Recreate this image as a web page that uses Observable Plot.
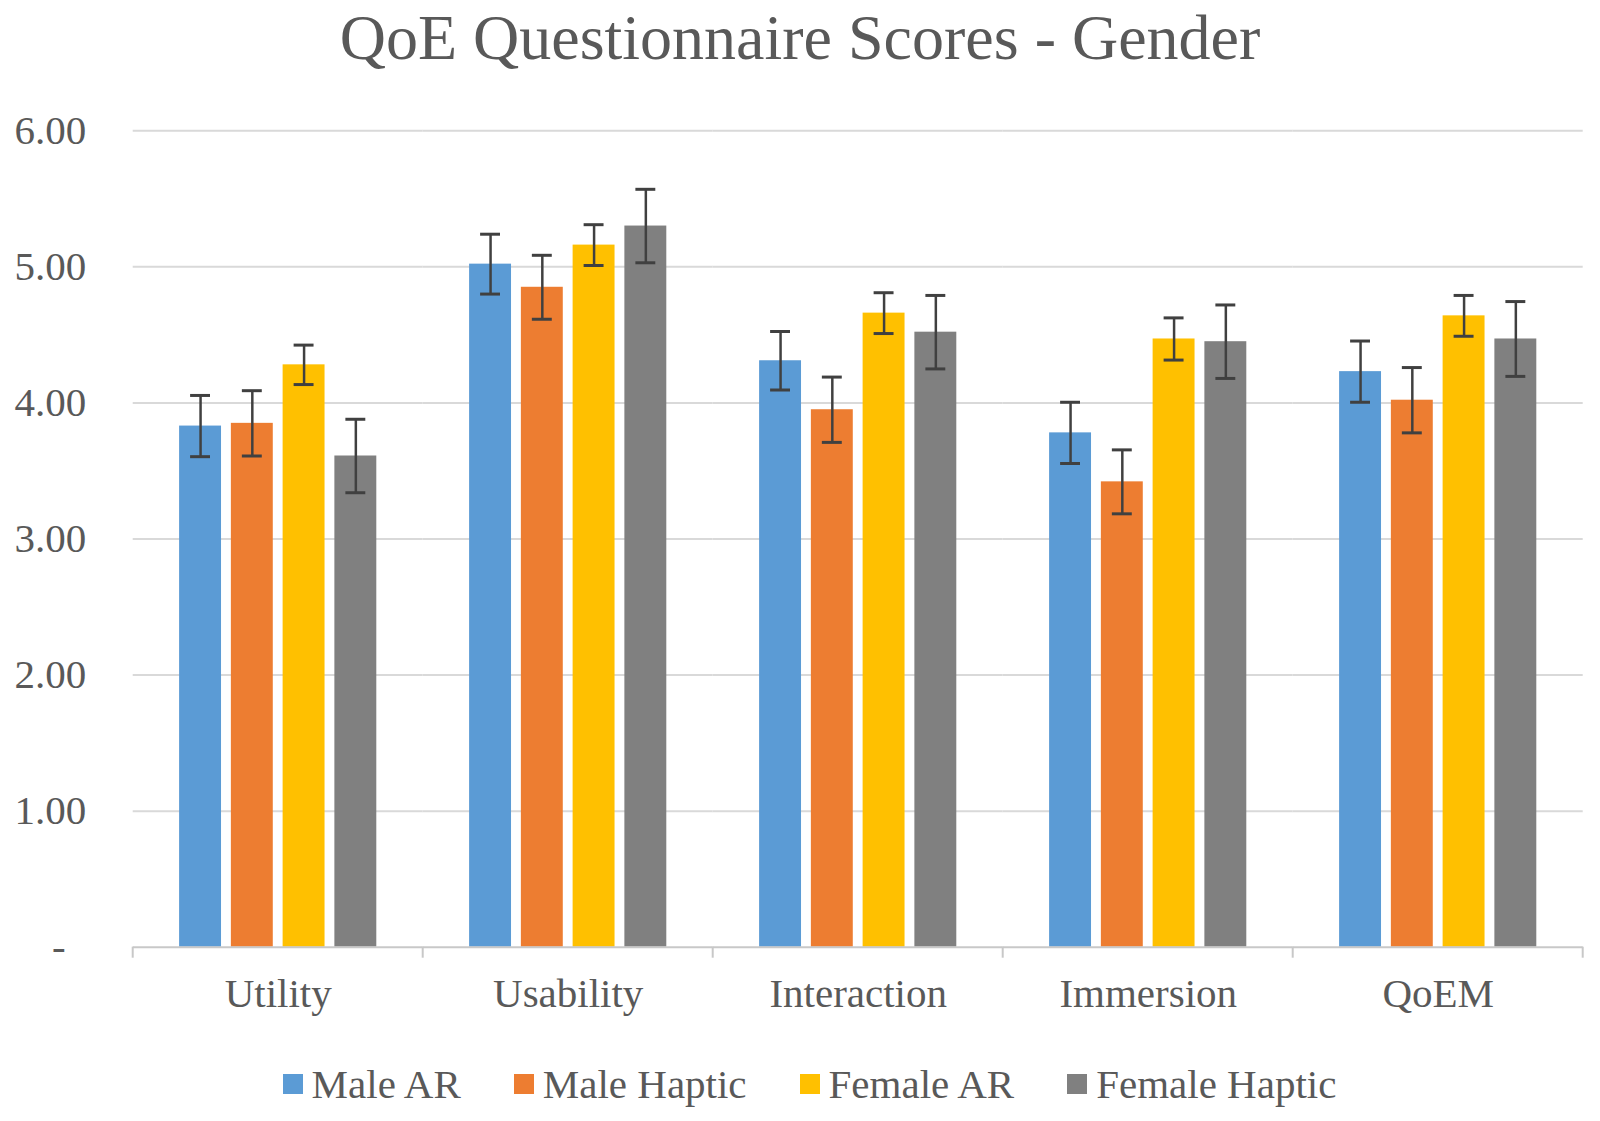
<!DOCTYPE html>
<html>
<head>
<meta charset="utf-8">
<script src="https://cdn.jsdelivr.net/npm/d3@7"></script>
<script src="https://cdn.jsdelivr.net/npm/@observablehq/plot@0.6"></script>
<style>
  html, body { margin: 0; padding: 0; background: #ffffff; }
  body { width: 1600px; height: 1121px; overflow: hidden; font-family: "Liberation Serif", "Times New Roman", serif; color: #595959; }
  #title { height: 89px; line-height: 76px; font-size: 64px; text-align: center; white-space: nowrap; overflow: visible; }
  #chart svg { display: block; }
  #legend { height: 72px; padding-top: 10.7px; box-sizing: border-box; display: flex; justify-content: center; align-items: flex-start; padding-left: 19px; font-size: 41px; line-height: 48px; }
  .item { display: flex; align-items: center; height: 48px; margin-right: 53px; white-space: nowrap; }
  .item:last-child { margin-right: 0; }
  .sw { width: 20px; height: 20px; margin-right: 9px; display: inline-block; }
</style>
</head>
<body>
<div id="title">QoE Questionnaire Scores - Gender</div>
<div id="chart"></div>
<div id="legend"></div>
<script>
const categories = ["Utility", "Usability", "Interaction", "Immersion", "QoEM"];
const series = ["Male AR", "Male Haptic", "Female AR", "Female Haptic"];
const colors = ["#5B9BD5", "#ED7D31", "#FFC000", "#808080"];

const maleAR = [3.83, 5.02, 4.31, 3.78, 4.23];
const maleHaptic = [3.85, 4.85, 3.95, 3.42, 4.02];
const femaleAR = [4.28, 5.16, 4.66, 4.47, 4.64];
const femaleHaptic = [3.61, 5.30, 4.52, 4.45, 4.47];

const maleARErr = [0.225, 0.22, 0.215, 0.225, 0.225];
const maleHapticErr = [0.24, 0.235, 0.24, 0.235, 0.24];
const femaleARErr = [0.145, 0.15, 0.15, 0.155, 0.15];
const femaleHapticErr = [0.27, 0.27, 0.27, 0.27, 0.275];

const yTicks = [0, 1, 2, 3, 4, 5, 6];
const gridValues = [1, 2, 3, 4, 5, 6];

const seriesValues = [maleAR, maleHaptic, femaleAR, femaleHaptic];
const seriesErrs = [maleARErr, maleHapticErr, femaleARErr, femaleHapticErr];

const rows = [];
categories.forEach((c, i) => {
  series.forEach((s, j) => {
    rows.push({category: c, series: s, value: seriesValues[j][i], err: seriesErrs[j][i]});
  });
});

const W = 1600, H = 960;
const mL = 132.7, mR = 17.3, mT = 41.3, mB = 102.3;
const fxPad = 0.32;
const fxStep = (W - mL - mR) / categories.length;
const halfGap = fxStep * fxPad / 2;
// the y axis sits on the first facet's left edge; reach back to the plot margin, then 47px more
const yLabelOffset = fxStep * fxPad / 2 + 47;

const plot = Plot.plot({
  width: W,
  height: H,
  marginTop: mT,
  marginBottom: mB,
  marginLeft: mL,
  marginRight: mR,
  style: {
    fontFamily: "'Liberation Serif', 'Times New Roman', serif",
    fontSize: "41px",
    color: "#595959",
    background: "#ffffff",
    overflow: "visible"
  },
  facet: {data: rows, x: "category"},
  fx: {
    domain: categories,
    paddingInner: fxPad,
    paddingOuter: fxPad / 2,
    round: false,
    label: null,
    axis: "bottom",
    tickSize: 0,
    tickPadding: 31
  },
  x: {domain: series, paddingInner: 0.19, paddingOuter: 0, round: false, axis: null},
  y: {domain: [0, 6], axis: null, label: null},
  color: {domain: series, range: colors},
  marks: [
    Plot.ruleY(gridValues, {stroke: "#d9d9d9", strokeWidth: 2, insetLeft: -halfGap, insetRight: -halfGap}),
    Plot.axisY({
      ticks: yTicks,
      tickFormat: d => d === 0 ? "-\u00a0\u00a0" : d.toFixed(2),
      tickSize: 0,
      tickPadding: 0,
      dx: -yLabelOffset,
      label: null,
      fontSize: 41
    }),
    Plot.barY(rows, {x: "series", y: "value", fill: "series"}),
    Plot.ruleY([0], {stroke: "#c8c8c8", strokeWidth: 2, insetLeft: -halfGap, insetRight: -halfGap}),
    Plot.ruleX(rows, {x: "series", y1: d => d.value - d.err, y2: d => d.value + d.err, stroke: "#404040", strokeWidth: 2.5}),
    Plot.tickY(rows, {x: "series", y: d => d.value + d.err, stroke: "#404040", strokeWidth: 3, insetLeft: 11, insetRight: 11}),
    Plot.tickY(rows, {x: "series", y: d => d.value - d.err, stroke: "#404040", strokeWidth: 3, insetLeft: 11, insetRight: 11})
  ]
});

// category boundary tick marks on the category axis, derived from the fx scale
const fx = plot.scale("fx");
const y0 = plot.scale("y").apply(0);
const gapHalf = (fx.step - fx.bandwidth) / 2;
const bounds = categories.map(c => fx.apply(c) - gapHalf);
bounds.push(fx.apply(categories[categories.length - 1]) + fx.bandwidth + gapHalf);
d3.select(plot).append("g")
  .attr("stroke", "#c8c8c8")
  .attr("stroke-width", 2)
  .selectAll("line")
  .data(bounds)
  .join("line")
  .attr("x1", d => d).attr("x2", d => d)
  .attr("y1", y0).attr("y2", y0 + 11);

document.getElementById("chart").appendChild(plot);

// legend from the plot's color scale
const color = plot.scale("color");
const legend = d3.select("#legend");
color.domain.forEach((s, i) => {
  const it = legend.append("div").attr("class", "item");
  it.append("span").attr("class", "sw").style("background", color.range[i]);
  it.append("span").text(s);
});
</script>
</body>
</html>
